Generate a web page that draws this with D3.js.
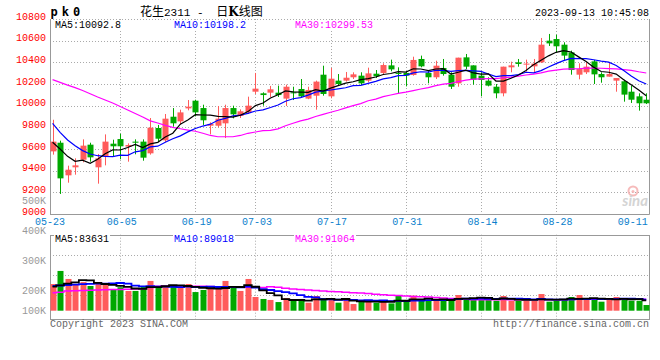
<!DOCTYPE html>
<html><head><meta charset="utf-8">
<script src="https://cdn.jsdelivr.net/npm/d3@7"></script>
<style>body{margin:0;background:#fff} svg{display:block}</style>
</head><body><svg id="c" width="660" height="360"></svg>
<script>
const dates = ["05-23","05-24","05-25","05-26","05-29","05-30","05-31",
"06-01","06-02","06-05","06-06","06-07","06-08","06-09","06-12","06-13","06-14","06-15","06-16","06-19","06-20","06-21","06-26","06-27","06-28","06-29","06-30",
"07-03","07-04","07-05","07-06","07-07","07-10","07-11","07-12","07-13","07-14","07-17","07-18","07-19","07-20","07-21","07-24","07-25","07-26","07-27","07-28","07-31",
"08-01","08-02","08-03","08-04","08-07","08-08","08-09","08-10","08-11","08-14","08-15","08-16","08-17","08-18","08-21","08-22","08-23","08-24","08-25","08-28","08-29","08-30","08-31",
"09-01","09-04","09-05","09-06","09-07","09-08","09-11","09-12","09-13"];
const openP  = [9578,9658,9357,9431,9501,9640,9431,9532,9649,9692,9622,9668,9668,9560,9794,9680,9898,9855,9975,10046,
9978,9815,9815,9837,9978,9905,9938,10129,10114,10120,10120,10065,10123,10154,10065,10092,10286,10086,10231,10231,
10262,10277,10231,10295,10302,10372,10302,10302,10283,10431,10302,10262,10348,10286,10206,10446,10372,10277,10231,10175,
10114,10354,10400,10382,10363,10400,10600,10615,10563,10492,10286,10308,10409,10292,10268,10231,10225,10129,10086,10055];
const highP  = [9870,9677,9446,9514,9689,9658,9554,9735,9686,9741,9652,9689,9689,9886,9822,9923,9978,9963,10052,10055,
10009,9846,9997,10009,10000,9966,10083,10302,10123,10182,10185,10194,10175,10246,10175,10231,10369,10348,10292,10311,
10308,10308,10351,10329,10391,10425,10354,10317,10452,10462,10323,10415,10431,10308,10443,10477,10372,10308,10262,10200,
10360,10406,10431,10425,10431,10625,10662,10655,10585,10508,10391,10400,10422,10308,10400,10255,10240,10185,10114,10114];
const lowP   = [9548,9185,9289,9363,9477,9483,9280,9449,9532,9505,9483,9551,9492,9548,9665,9665,9806,9825,9957,9901,
9822,9735,9800,9701,9883,9886,9923,10108,10000,10080,10080,9997,10052,10074,10060,9963,10092,10068,10188,10222,
10246,10191,10215,10255,10292,10317,10108,10178,10277,10354,10206,10246,10277,10154,10175,10338,10194,10086,10178,10068,
10086,10308,10360,10314,10308,10394,10551,10492,10422,10286,10243,10292,10200,10212,10268,10129,10037,10025,9954,10015];
const closeP = [9668,9329,9409,9449,9631,9523,9514,9668,9625,9625,9637,9658,9520,9797,9695,9880,9837,9938,9991,9938,
9865,9831,9880,9978,9920,9948,10000,10157,10098,10151,10098,10175,10114,10086,10145,10222,10108,10249,10200,10258,
10289,10206,10298,10271,10375,10335,10295,10277,10422,10363,10262,10369,10292,10175,10443,10360,10240,10237,10185,10114,
10360,10372,10385,10388,10388,10563,10575,10548,10462,10329,10338,10360,10289,10262,10292,10255,10102,10055,10022,10022];
const volume = [216,322,257,214,232,200,222,214,176,190,160,160,200,241,190,200,200,194,216,151,
168,181,178,241,200,160,257,111,95,87,70,103,79,95,65,119,103,100,65,87,
54,73,87,65,79,59,122,79,122,79,87,81,87,100,127,95,100,108,87,81,
119,81,81,81,79,135,73,81,87,111,127,87,95,73,95,111,103,81,81,46].map(v => v * 1000);
// moving-average values before the first full window
const ma5Head  = [9662,9600,9532,9486];
const ma10Head = [9837,9754,9683,9631,9585,9554,9538,9532,9529];
const ma30Head = [10240,10215,10190,10167,10140,10110,10080,10052,10025,9993,9960,9928,9895,9860,9840,9818,9800,9787,9775,9764,9745,9725,9713,9713,9713,9725,9745,9757,9770];
const vma5Head  = [195,205,220,230].map(v => v * 1000);
const vma10Head = [200,204,208,212,215,217,219,220,221].map(v => v * 1000);
const vma30Head = [146,150,160,162,164,166,168,169,171,172,174,176,178,188,198,200,200,200,200,199,198,196,194,193,192,191,190,189,188].map(v => v * 1000);
const priceTicks = [9000,9200,9400,9600,9800,10000,10200,10400,10600,10800];
const dateTicks = ["05-23","06-05","06-19","07-03","07-17","07-31","08-14","08-28","09-11"];
const volTickValues = [500000,400000,300000,200000,100000];
const volTickLabels = ["500K","400K","300K","200K","100K"];
const titleParts = ["花生","2311"," - ","日","K","线图"];
const priceMA = ["MA5:10092.8","MA10:10198.2","MA30:10299.53"];
const volMA = ["MA5:83631","MA10:89018","MA30:91064"];

function ma(arr, n, head) {
  return arr.map((v, i) => i < n - 1 ? head[i] : d3.mean(arr.slice(i - n + 1, i + 1)));
}

const svg = d3.select("#c");
const MONO = "'Liberation Mono', 'DejaVu Sans Mono', monospace";
const UP = "#ff5b5b", DOWN = "#00a800";
const L = 50, R = 649, PT = 19, PB = 214, VT = 234.7, VB = 318.3;

const x = d3.scaleBand().domain(dates).range([48.8, 650]).paddingInner(0.2).paddingOuter(0.1);
const cx = d => x(d) + x.bandwidth() / 2;
const y = d3.scaleLinear().domain([9000, 10800]).range([PB, PT]);
const yv = d3.scaleLinear().domain([0, 100000]).range([310.7, 310.7 - 100000 / 8100]);
const yvLabel = d3.scaleLinear().domain([100000,200000,300000,400000,500000]).range([314,294.3,264.3,234.3,204.3]);

const gridC = "#aaa";
// price grid
svg.append("g").selectAll("line").data(priceTicks.slice(1)).join("line")
  .attr("x1", L).attr("x2", R).attr("y1", d => Math.round(y(d)) + 0.5).attr("y2", d => Math.round(y(d)) + 0.5)
  .attr("stroke", gridC).attr("stroke-dasharray", "1,2");
svg.append("g").selectAll("line").data(dateTicks.slice(1, -1)).join("line")
  .attr("x1", d => Math.round(cx(d)) + 0.5).attr("x2", d => Math.round(cx(d)) + 0.5)
  .attr("y1", PT).attr("y2", PB).attr("stroke", gridC).attr("stroke-dasharray", "1,2");
// price frame
svg.append("line").attr("x1", L + 0.5).attr("x2", L + 0.5).attr("y1", PT).attr("y2", PB + 0.5).attr("stroke", "#999");
svg.append("line").attr("x1", L).attr("x2", R + 0.5).attr("y1", PB + 0.5).attr("y2", PB + 0.5).attr("stroke", "#999");
svg.append("line").attr("x1", R + 0.5).attr("x2", R + 0.5).attr("y1", PT).attr("y2", PB + 0.5).attr("stroke", "#999");

// volume grid
svg.append("g").selectAll("line").data([255, 275, 295]).join("line")
  .attr("x1", L).attr("x2", R).attr("y1", d => d + 0.5).attr("y2", d => d + 0.5)
  .attr("stroke", gridC).attr("stroke-dasharray", "1,2");
svg.append("g").selectAll("line").data(dateTicks.slice(1, -1)).join("line")
  .attr("x1", d => Math.round(cx(d)) + 0.5).attr("x2", d => Math.round(cx(d)) + 0.5)
  .attr("y1", VT).attr("y2", VB + 3).attr("stroke", gridC).attr("stroke-dasharray", "1,2");
svg.append("rect").attr("x", L + 0.5).attr("y", Math.round(VT) + 0.5).attr("width", R - L).attr("height", Math.round(VB - VT))
  .attr("fill", "none").attr("stroke", "#999");

// candles
const idx = d3.range(dates.length);
const bw = 6;
const cg = svg.append("g");
cg.selectAll("line").data(idx).join("line")
  .attr("x1", i => Math.round(cx(dates[i])) + 0.5).attr("x2", i => Math.round(cx(dates[i])) + 0.5)
  .attr("y1", i => y(highP[i])).attr("y2", i => y(lowP[i]))
  .attr("stroke", i => closeP[i] >= openP[i] ? UP : DOWN);
cg.selectAll("rect").data(idx).join("rect")
  .attr("x", i => Math.round(cx(dates[i])) - bw / 2 + 0.5).attr("width", bw)
  .attr("y", i => y(Math.max(openP[i], closeP[i])))
  .attr("height", i => Math.max(1, Math.abs(y(openP[i]) - y(closeP[i]))))
  .attr("fill", i => closeP[i] >= openP[i] ? UP : DOWN);

// volume bars
svg.append("g").selectAll("rect").data(idx).join("rect")
  .attr("x", i => Math.round(cx(dates[i])) - bw / 2 + 0.5).attr("width", bw)
  .attr("y", i => yv(volume[i])).attr("height", i => yv(0) - yv(volume[i]))
  .attr("fill", i => closeP[i] >= openP[i] ? UP : DOWN);

// MA lines
const m5 = ma(closeP, 5, ma5Head), m10 = ma(closeP, 10, ma10Head), m30 = ma(closeP, 30, ma30Head);
const pline = d3.line().x((d, i) => cx(dates[i])).y(d => y(d));
[[m30, "#ff00ff"], [m10, "#0000ff"], [m5, "#000"]].forEach(([s, c]) =>
  svg.append("path").attr("d", pline(s)).attr("fill", "none").attr("stroke", c).attr("stroke-width", 1.2));
const v5 = ma(volume, 5, vma5Head), v10 = ma(volume, 10, vma10Head), v30 = ma(volume, 30, vma30Head);
const vline = d3.line().curve(d3.curveStep).x((d, i) => cx(dates[i])).y(d => yv(d));
[[v30, "#ff00ff", 1.5], [v10, "#0000ff", 1.8], [v5, "#000", 1.8]].forEach(([s, c, w]) =>
  svg.append("path").attr("d", vline(s)).attr("fill", "none").attr("stroke", c).attr("stroke-width", w));

// watermark
const wm = svg.append("g").attr("opacity", 0.9);
wm.append("circle").attr("cx", 633).attr("cy", 191).attr("r", 4.5).attr("fill", "none").attr("stroke", "#f6b4b4").attr("stroke-width", 2);
wm.append("circle").attr("cx", 633).attr("cy", 191.5).attr("r", 1.5).attr("fill", "#f6b4b4");
wm.append("text").attr("x", 648).attr("y", 206).attr("text-anchor", "end").attr("font-family", "Lato, sans-serif")
  .attr("font-weight", "bold").attr("font-style", "italic").attr("font-size", 15).attr("fill", "#d0d0d0").text("sina");

// text helpers
function txt(xp, yp, s, color, anchor, opts) {
  const t = svg.append("text").attr("x", xp).attr("y", yp).attr("font-family", MONO).attr("font-size", 10)
    .attr("fill", color).attr("text-anchor", anchor || "start").text(s);
  if (opts && opts.bg) {
    const b = t.node().getBBox();
    svg.insert("rect", () => t.node()).attr("x", b.x - 1).attr("y", b.y + 1).attr("width", b.width + 2).attr("height", b.height - 2).attr("fill", "#fff");
  }
  return t;
}

// price axis labels
priceTicks.forEach(v => txt(46, y(v) + 0.5, String(v), "#ff0000", "end"));
// volume labels
volTickValues.forEach((v, i) => txt(46, yvLabel(v), volTickLabels[i], "#999", "end"));
// date labels
dateTicks.forEach(d => txt(cx(d) + (d === "05-23" ? -2.5 : 1.5), 225, d, "#0a80cc", "middle"));

// header
svg.append("text").attr("x", 50.5).attr("y", 15.5).attr("font-family", "'DejaVu Sans Mono', monospace").attr("font-weight", "bold")
  .attr("font-size", 12).attr("letter-spacing", 4).attr("fill", "#000").text("pk0");
const tt = svg.append("text").attr("x", 140).attr("y", 15.5).attr("fill", "#000");
tt.append("tspan").attr("font-family", "'Noto Sans CJK SC'").attr("font-size", 12).text(titleParts[0]);
tt.append("tspan").attr("font-family", MONO).attr("font-size", 11).text(titleParts[1]);
tt.append("tspan").attr("font-family", MONO).attr("font-size", 11).attr("xml:space", "preserve").text(titleParts[2]);
tt.append("tspan").attr("font-family", "'Noto Sans CJK SC'").attr("font-size", 12).attr("dx", 6).text(titleParts[3]);
tt.append("tspan").attr("font-family", "'DejaVu Serif', serif").attr("font-weight", "bold").attr("font-size", 12).text(titleParts[4]);
tt.append("tspan").attr("font-family", "'Noto Sans CJK SC'").attr("font-size", 12).text(titleParts[5]);
txt(649, 15.5, "2023-09-13 10:45:08", "#000", "end");

// MA legends
const maColors = ["#000", "#0000ff", "#ff00ff"];
const maX = [55, 174, 295];
priceMA.forEach((s, i) => txt(maX[i], 27.5, s, maColors[i], "start", {bg: true}));
volMA.forEach((s, i) => txt(maX[i], 242, s, maColors[i], "start", {bg: true}));

// footer
txt(50, 326.5, "Copyright 2023 SINA.COM", "#666", "start");
txt(649, 326.5, "http://finance.sina.com.cn", "#666", "end");
</script></body></html>
